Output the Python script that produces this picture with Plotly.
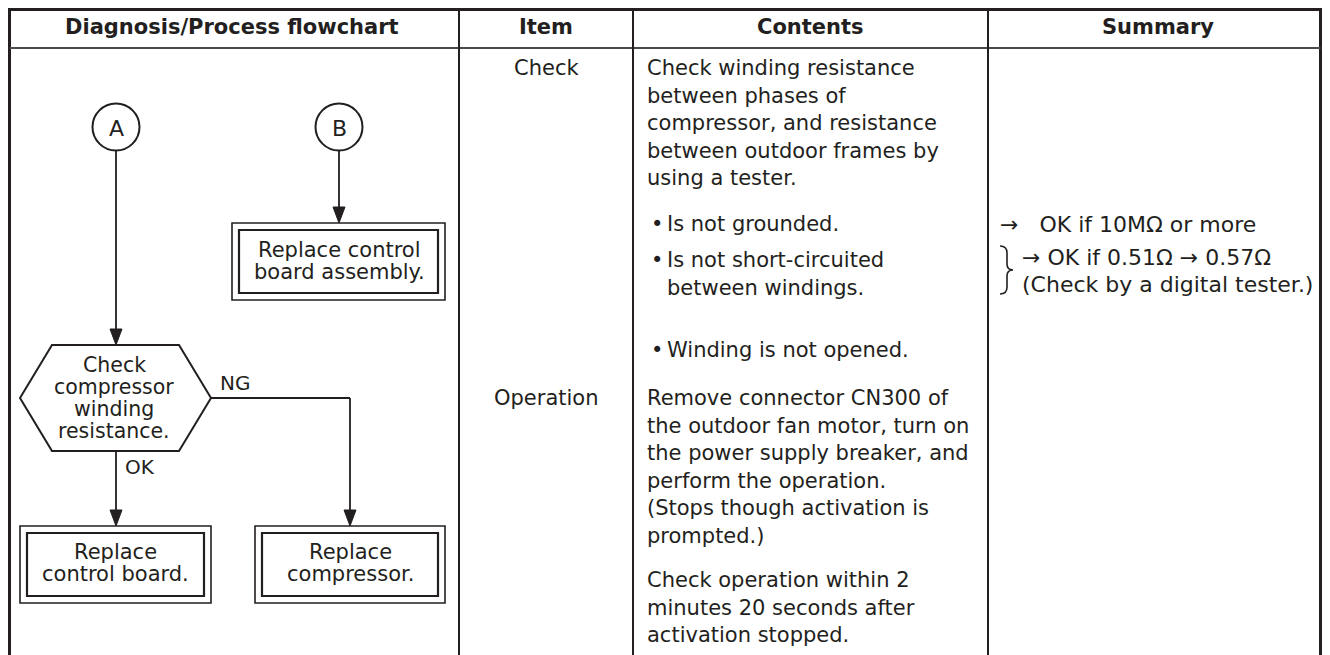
import plotly.graph_objects as go

# The page body keeps its default 8px margin, so the figure is sized to fit the
# 1330x655 window and the axis ranges map data units 1:1 onto page pixels.
OFF = 8
W, H = 1330 - 2 * OFF, 655 - OFF
FONT = "DejaVu Sans"
INK = "#231f20"
FS = 21

# ---------------- text content ----------------
headers = ["Diagnosis/Process flowchart", "Item", "Contents", "Summary"]
items = ["Check", "Operation"]
contents_check = ["Check winding resistance", "between phases of",
                  "compressor, and resistance", "between outdoor frames by",
                  "using a tester."]
bullets = [["Is not grounded."],
           ["Is not short-circuited", "between windings."],
           ["Winding is not opened."]]
contents_operation = ["Remove connector CN300 of", "the outdoor fan motor, turn on",
                      "the power supply breaker, and", "perform the operation.",
                      "(Stops though activation is", "prompted.)"]
contents_timing = ["Check operation within 2", "minutes 20 seconds after",
                   "activation stopped."]
summary_ground = ["\u2192   OK if 10M\u03a9 or more"]
summary_winding = ["\u2192 OK if 0.51\u03a9 \u2192 0.57\u03a9", "(Check by a digital tester.)"]
connectors = ["A", "B"]
decision = ["Check", "compressor", "winding", "resistance."]
action_assembly = ["Replace control", "board assembly."]
action_board = ["Replace", "control board."]
action_compressor = ["Replace", "compressor."]
branch_labels = ["NG", "OK"]

# ---------------- layout geometry ----------------
cols = [9.5, 459, 633, 988, 1320.5]
top, head_bot, bottom = 9.5, 48, 670

shapes = []
annotations = []


def line(x0, y0, x1, y1, w=1.8, color=INK):
    shapes.append(dict(type="line", x0=x0, y0=y0, x1=x1, y1=y1,
                       xref="x", yref="y", line=dict(color=color, width=w)))


def rect(x0, y0, x1, y1, w=1.5):
    shapes.append(dict(type="rect", x0=x0, y0=y0, x1=x1, y1=y1,
                       xref="x", yref="y", line=dict(color=INK, width=w)))


def dbox(x0, y0, x1, y1, gap=7):
    rect(x0, y0, x1, y1, 1.6)
    rect(x0 + gap, y0 + gap, x1 - gap, y1 - gap, 2.2)


def arrow_down(x, y0, tip):
    line(x, y0, x, tip - 12)
    shapes.append(dict(type="path", xref="x", yref="y",
                       path=f"M {x-6} {tip-16} L {x+6} {tip-16} L {x} {tip} Z",
                       fillcolor=INK, line=dict(color=INK, width=1)))


def text(x, y, s, anchor="left", size=FS, bold=False):
    if bold:
        s = f"<b>{s}</b>"
    annotations.append(dict(x=x, y=y, xref="x", yref="y", text=s,
                            showarrow=False, xanchor=anchor, yanchor="middle",
                            font=dict(family=FONT, size=size, color=INK)))


def lines_block(x, y0, lines, step, anchor="left", size=FS):
    for i, s in enumerate(lines):
        text(x, y0 + i * step, s, anchor, size=size)


# table frame
line(cols[0] - 1.5, top, cols[-1] + 1.5, top, 3)
line(cols[0], top, cols[0], bottom, 3)
line(cols[-1], top, cols[-1], bottom, 3)
line(cols[0], head_bot, cols[-1], head_bot, 2.2, "#4a4a4a")
for cx in cols[1:-1]:
    line(cx, top, cx, bottom, 2)

# headers
hdr_mid = [232, 546, 810.5, 1157.5]
for xm, h in zip(hdr_mid, headers):
    text(xm, 27, h, "center", bold=True)

# item column
item_x = (cols[1] + cols[2]) / 2
text(item_x, 68, items[0], "center")
text(item_x, 398, items[1], "center")

# contents column
cx0 = 645
step = 27.5
lines_block(cx0, 68, contents_check, step)
bullet_y = [224, 260, 350]
for by, blines in zip(bullet_y, bullets):
    text(cx0 + 4, by, "\u2022")
    lines_block(cx0 + 20, by, blines, step)
lines_block(cx0, 398, contents_operation, step)
lines_block(cx0, 580, contents_timing, step)

# summary column
text(998, 224, summary_ground[0], size=22)
lines_block(1020, 257, summary_winding, 27, size=22)
shapes.append(dict(type="path", xref="x", yref="y",
                   path="M 1000 246 Q 1007 246 1007 253 L 1007 264 Q 1007 270 1013 270 "
                        "Q 1007 270 1007 276 L 1007 287 Q 1007 294 1000 294",
                   line=dict(color=INK, width=1.6)))

# ---------------- flowchart ----------------
ax, bx, cy, r = 116, 339, 127, 23.5
for x, lab in zip([ax, bx], connectors):
    shapes.append(dict(type="circle", xref="x", yref="y",
                       x0=x - r, y0=cy - r, x1=x + r, y1=cy + r,
                       line=dict(color=INK, width=2)))
    text(x, cy + 1, lab, "center", size=22)

# B -> assembly box
arrow_down(bx, cy + r, 223)
dbox(232, 223, 445, 300)
lines_block(bx, 250, action_assembly, 22, "center")

# A -> decision
arrow_down(ax, cy + r, 345)
hx = [52, 179, 211, 179, 52, 20]
hy = [345, 345, 398, 451, 451, 398]
hpath = "M " + " L ".join(f"{x} {y}" for x, y in zip(hx, hy)) + " Z"
shapes.append(dict(type="path", xref="x", yref="y", path=hpath,
                   line=dict(color=INK, width=2)))
lines_block(114, 365, decision, 22, "center", size=20.5)

# NG branch
line(211, 398, 350, 398)
arrow_down(350, 398, 526)
text(218, 383, branch_labels[0], size=20)
dbox(255, 526, 445, 603)
lines_block(350, 552, action_compressor, 22, "center")

# OK branch
arrow_down(ax, 451, 526)
text(123, 467, branch_labels[1], size=20)
dbox(20, 526, 211, 603)
lines_block(115, 552, action_board, 22, "center")

fig = go.Figure()
fig.update_layout(
    width=W, height=H, autosize=False,
    margin=dict(l=0, r=0, t=0, b=0),
    paper_bgcolor="white", plot_bgcolor="white",
    xaxis=dict(range=[OFF, OFF + W], visible=False, fixedrange=True),
    yaxis=dict(range=[OFF + H, OFF], visible=False, fixedrange=True),
    shapes=shapes, annotations=annotations, showlegend=False,
)
fig.write_html("out.html")
